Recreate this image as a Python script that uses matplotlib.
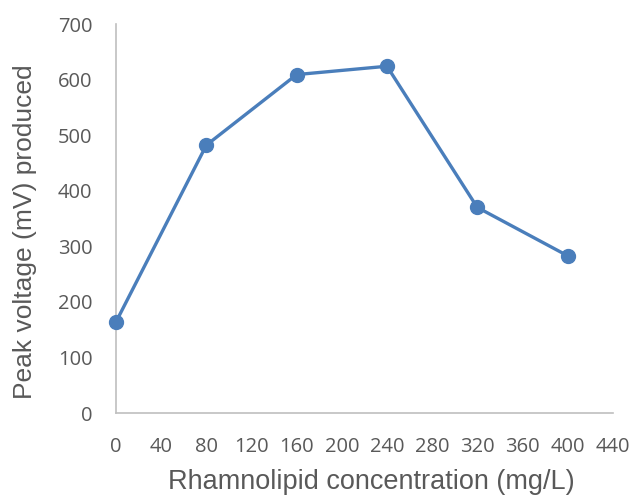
import matplotlib
matplotlib.use("Agg")
import matplotlib.pyplot as plt

# Rhamnolipid dose vs. peak voltage
concentration = [0, 80, 160, 240, 320, 400]          # mg/L
peak_voltage = [164, 482, 609, 624, 370, 283]         # mV

x_ticks = list(range(0, 441, 40))
y_ticks = list(range(0, 701, 100))

plt.rcParams["font.family"] = ["Open Sans", "DejaVu Sans"]
label_font = ["Liberation Sans", "DejaVu Sans"]

fig = plt.figure(figsize=(6.33, 4.96), dpi=100)
ax = fig.add_axes([0.1833, 0.1673, 0.7847, 0.7843])

ax.plot(concentration, peak_voltage, color="#4A7EBB", linewidth=2.4,
        marker="o", markersize=10, clip_on=False, zorder=3)

ax.set_xlim(0, 440)
ax.set_ylim(0, 700)
ax.set_xticks(x_ticks)
ax.set_yticks(y_ticks)
ax.tick_params(length=0, labelsize=14.5, colors="#595959")
ax.tick_params(axis="x", pad=17)
ax.tick_params(axis="y", pad=17)

for side in ("top", "right"):
    ax.spines[side].set_visible(False)
for side in ("left", "bottom"):
    ax.spines[side].set_color("#BFBFBF")
    ax.spines[side].set_linewidth(1.2)

ax.set_xlabel("Rhamnolipid concentration (mg/L)", fontsize=19.5, color="#595959",
              labelpad=9, family=label_font)
ax.set_ylabel("Peak voltage (mV) produced", fontsize=19, color="#595959",
              labelpad=15, family=label_font)
ax.xaxis.label.set_x(0.513)
ax.yaxis.label.set_y(0.465)

fig.savefig("out.png", dpi=100)
